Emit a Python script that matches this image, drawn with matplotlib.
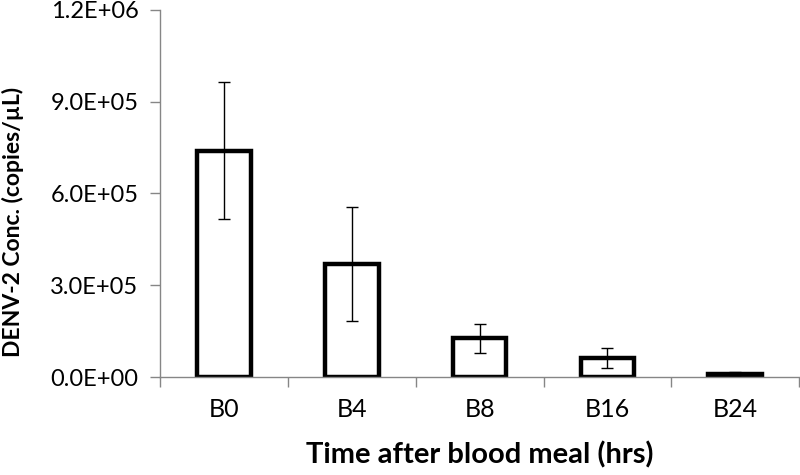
import numpy as np
import matplotlib.pyplot as plt
from matplotlib.ticker import FuncFormatter, FixedLocator

groups = ['B0', 'B4', 'B8', 'B16', 'B24']
conc = [740000, 370000, 126000, 63000, 10000]
err = [225000, 187000, 48000, 33000, 5000]

plt.rcParams['font.family'] = ['Lato', 'DejaVu Sans']

fig = plt.figure(figsize=(8, 4.75), dpi=100)
ax = fig.add_axes([0.2, 0.2063, 0.799, 0.7727])

x = np.arange(len(groups))
ax.bar(x, conc, width=0.42, color='white', edgecolor='black', linewidth=3.2, zorder=2)
ax.errorbar(x, conc, yerr=err, fmt='none', ecolor='black', elinewidth=1,
            capsize=4.5, capthick=1, zorder=3)

ax.set_xlim(-0.5, len(groups) - 0.5)
ax.set_ylim(0, 1.2e6)
ax.set_yticks(np.arange(0, 1.2e6 + 1, 3e5))
ax.yaxis.set_major_formatter(FuncFormatter(lambda v, p: f'{v:.1E}'))

ax.set_xticks(x)
ax.set_xticklabels(groups)
ax.xaxis.set_minor_locator(FixedLocator(np.arange(-0.5, len(groups), 1.0)))
ax.tick_params(axis='x', which='major', length=0, pad=15, labelsize=18)
ax.tick_params(axis='x', which='minor', length=7, width=1, color='#868686', direction='out')
ax.tick_params(axis='y', length=7, width=1, color='#868686', pad=8.5, labelsize=17)

for s in ['top', 'right']:
    ax.spines[s].set_visible(False)
for s in ['left', 'bottom']:
    ax.spines[s].set_color('#868686')
    ax.spines[s].set_linewidth(1)

ax.set_xlabel('Time after blood meal (hrs)', fontsize=21, fontweight='bold')
ax.set_ylabel('DENV-2 Conc. (copies/µL)', fontsize=16.5, fontweight='bold')
ax.xaxis.set_label_coords(0.5, -0.174)
ax.yaxis.set_label_coords(-0.212, 0.422)

fig.savefig('out.png', dpi=100)
